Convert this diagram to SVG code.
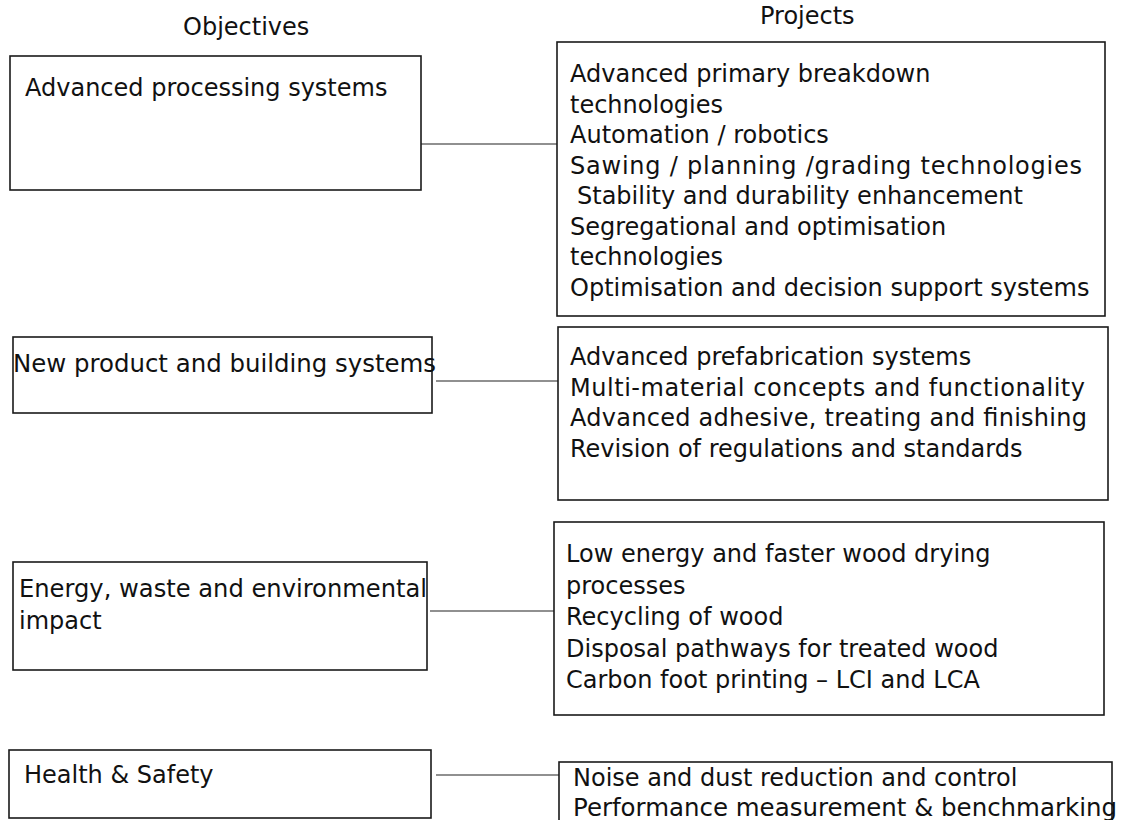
<svg xmlns="http://www.w3.org/2000/svg" width="1125" height="820" viewBox="0 0 1125 820">
<style>
.box{fill:#fff;stroke:#1a1a1a;stroke-width:1.6}
.conn{stroke:#222;stroke-width:1.2;fill:none}
text{font-family:"DejaVu Sans","Open Sans",sans-serif;font-size:24px;fill:#111}
</style>
<rect width="1125" height="820" fill="#fff"/>
<g id="headers">
<text x="183" y="35">Objectives</text>
<text x="760" y="24">Projects</text>
</g>
<g id="connectors">
<line class="conn" x1="421" y1="144" x2="557" y2="144"/>
<line class="conn" x1="436" y1="381" x2="558" y2="381"/>
<line class="conn" x1="430" y1="611" x2="554" y2="611"/>
<line class="conn" x1="436" y1="775" x2="559" y2="775"/>
</g>
<g id="obj1">
<rect class="box" x="10" y="56" width="411" height="134"/>
<text x="25" y="96">Advanced processing systems</text>
</g>
<g id="proj1">
<rect class="box" x="557" y="42" width="548" height="274"/>
<text x="570" y="82">Advanced primary breakdown</text>
<text x="570" y="112.5">technologies</text>
<text x="570" y="143">Automation / robotics</text>
<text x="570" y="173.5" textLength="512" lengthAdjust="spacing">Sawing / planning /grading technologies</text>
<text x="577" y="204">Stability and durability enhancement</text>
<text x="570" y="234.5">Segregational and optimisation</text>
<text x="570" y="265">technologies</text>
<text x="570" y="295.5">Optimisation and decision support systems</text>
</g>
<g id="obj2">
<rect class="box" x="13" y="337" width="419" height="76"/>
<text x="13" y="372" textLength="423" lengthAdjust="spacingAndGlyphs">New product and building systems</text>
</g>
<g id="proj2">
<rect class="box" x="558" y="327" width="550" height="173"/>
<text x="570" y="365">Advanced prefabrication systems</text>
<text x="570" y="395.5" textLength="515" lengthAdjust="spacing">Multi-material concepts and functionality</text>
<text x="570" y="426" textLength="517" lengthAdjust="spacing">Advanced adhesive, treating and finishing</text>
<text x="570" y="456.5">Revision of regulations and standards</text>
</g>
<g id="obj3">
<rect class="box" x="13" y="562" width="414" height="108"/>
<text x="19" y="597" textLength="408" lengthAdjust="spacingAndGlyphs">Energy, waste and environmental</text>
<text x="19" y="629">impact</text>
</g>
<g id="proj3">
<rect class="box" x="554" y="522" width="550" height="193"/>
<text x="566" y="562">Low energy and faster wood drying</text>
<text x="566" y="593.5">processes</text>
<text x="566" y="625">Recycling of wood</text>
<text x="566" y="656.5">Disposal pathways for treated wood</text>
<text x="566" y="688">Carbon foot printing – LCI and LCA</text>
</g>
<g id="obj4">
<rect class="box" x="9" y="750" width="422" height="68"/>
<text x="24" y="783">Health &amp; Safety</text>
</g>
<g id="proj4">
<rect class="box" x="559" y="762" width="553" height="70"/>
<text x="573" y="786">Noise and dust reduction and control</text>
<text x="573" y="816" textLength="544" lengthAdjust="spacingAndGlyphs">Performance measurement &amp; benchmarking</text>
</g>
</svg>
